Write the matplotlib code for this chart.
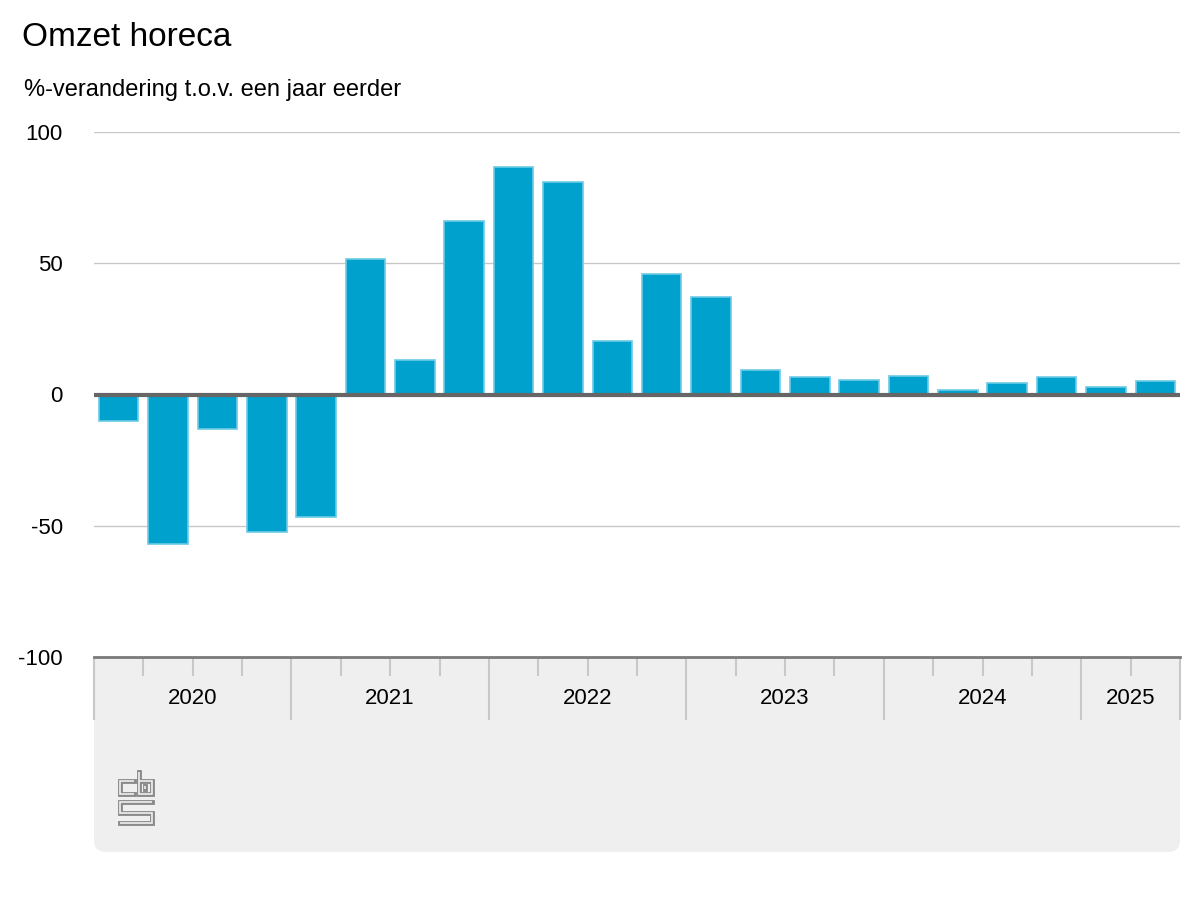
import matplotlib
matplotlib.use("Agg")
import matplotlib.pyplot as plt
from matplotlib.patches import FancyBboxPatch
import numpy as np

plt.rcParams['font.family'] = ['Liberation Sans', 'DejaVu Sans']

# ---------------------------------
# DATA
# ---------------------------------
quarters = ["2020K1", "2020K2", "2020K3", "2020K4",
            "2021K1", "2021K2", "2021K3", "2021K4",
            "2022K1", "2022K2", "2022K3", "2022K4",
            "2023K1", "2023K2", "2023K3", "2023K4",
            "2024K1", "2024K2", "2024K3", "2024K4",
            "2025K1", "2025K2"]
values = [-10, -57, -13, -52.5,
          -46.5, 51.5, 13.3, 66,
          86.5, 81, 20.2, 46,
          37, 9.5, 6.5, 5.7,
          7.2, 1.8, 4.2, 6.5,
          2.7, 5.0]
years = ["2020", "2021", "2022", "2023", "2024", "2025"]
yticks = [-100, -50, 0, 50, 100]

bar_color = "#00a1cd"
edge_color = "#6ccbe6"
panel_color = "#efefef"

W, H = 1200, 900
fig = plt.figure(figsize=(12, 9), dpi=100)

# background layer in pixel coordinates (panel + logo)
bg = fig.add_axes([0, 0, 1, 1], zorder=0)
bg.set_xlim(0, W)
bg.set_ylim(H, 0)
bg.axis("off")
panel = FancyBboxPatch((94, 620), 1180 - 94, 852 - 620,
                       boxstyle="round,pad=0,rounding_size=12",
                       facecolor=panel_color, edgecolor="none")
bg.add_patch(panel)

# cbs logo, outlined strokes
logo_paths = [
    [(134, 781.3), (120.3, 781.3), (120.3, 794), (134, 794)],
    [(139, 771.5), (139, 794), (152.3, 794), (152.3, 781.3), (139, 781.3)],
    [(145, 786), (145, 789)],
    [(152.3, 802), (120.3, 802), (120.3, 812.5), (152.3, 812.5), (152.3, 823), (120.3, 823)],
]
for p in logo_paths:
    px, py = zip(*p)
    bg.plot(px, py, color="#8a8a8a", lw=3.5, solid_capstyle="projecting", solid_joinstyle="miter")
    bg.plot(px, py, color=panel_color, lw=1.2, solid_capstyle="butt", solid_joinstyle="miter")

# ---------------------------------
# MAIN CHART
# ---------------------------------
ax = fig.add_axes([94 / W, 1 - 657 / H, (1180 - 94) / W, (657 - 132) / H], zorder=1)
ax.set_facecolor("white")

x = np.arange(len(quarters))
ax.bar(x, values, width=0.8, color=bar_color, edgecolor=edge_color, linewidth=1.2, zorder=3)

ax.set_xlim(-0.5, len(quarters) - 0.5)
ax.set_ylim(-100, 100)
ax.set_yticks(yticks)
ax.set_yticklabels([str(v) for v in yticks], fontsize=16)
ax.tick_params(axis="y", length=0, pad=22.5)
ax.grid(axis="y", color="#c8c8c8", lw=1, zorder=0)
ax.axhline(0, color="#666666", lw=3, zorder=4)

for s in ["top", "left", "right"]:
    ax.spines[s].set_visible(False)
ax.spines["bottom"].set_color("#7a7a7a")
ax.spines["bottom"].set_linewidth(2)

# quarter ticks (short) and year boundaries (long)
starts = [i for i, q in enumerate(quarters) if q.endswith("K1")]
bounds = [s - 0.5 for s in starts] + [len(quarters) - 0.5]
minor = [i + 0.5 for i in range(len(quarters) - 1) if (i + 0.5) not in bounds]
ax.set_xticks(bounds)
ax.set_xticklabels([])
ax.set_xticks(minor, minor=True)
ax.tick_params(axis="x", which="major", length=45, width=1.5, color="#c8c8c8")
ax.tick_params(axis="x", which="minor", length=13.5, width=1.5, color="#c8c8c8")

trans = ax.get_xaxis_transform()
for i, yr in enumerate(years):
    c = (bounds[i] + bounds[i + 1]) / 2
    ax.text(c, -42 / (657 - 132), yr, transform=trans, ha="center", va="center",
            fontsize=16, color="black")

fig.text(22 / W, 1 - 46 / H, "Omzet horeca", fontsize=24, ha="left", va="baseline")
fig.text(24 / W, 1 - 96 / H, "%-verandering t.o.v. een jaar eerder", fontsize=17,
         ha="left", va="baseline")

fig.savefig("out.png", dpi=100, facecolor="white")
